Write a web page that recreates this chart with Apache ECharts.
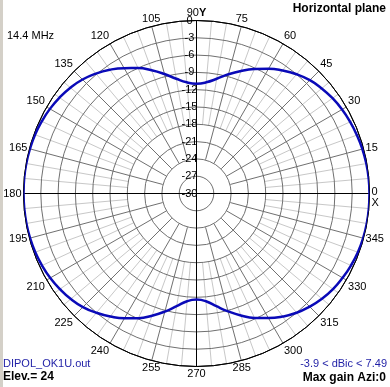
<!DOCTYPE html>
<html><head><meta charset="utf-8">
<script src="https://cdn.jsdelivr.net/npm/echarts@6/dist/echarts.min.js"></script>
<style>html,body{margin:0;padding:0;background:#fff;overflow:hidden}#c{width:390px;height:387px}</style>
</head><body><div id="c"></div><script>
// azimuth angles (degrees) and relative gain (dB)
const azimuth = [0,5,10,15,20,25,30,35,40,45,50,55,60,65,70,75,80,85,90,
  95,100,105,110,115,120,125,130,135,140,145,150,155,160,165,170,175,180,
  185,190,195,200,205,210,215,220,225,230,235,240,245,250,255,260,265,270,
  275,280,285,290,295,300,305,310,315,320,325,330,335,340,345,350,355,360];
const gainDb = [0,-0.03,-0.1,-0.22,-0.4,-0.6,-0.85,-1.2,-1.65,-2.2,-3.0,-3.95,-5.0,-6.2,-7.4,-8.6,-9.8,-10.65,-10.95,
  -10.65,-9.8,-8.55,-7.25,-6.0,-4.9,-3.8,-2.85,-2.05,-1.45,-1.0,-0.65,-0.4,-0.2,-0.1,-0.03,0,0,
  -0.02,-0.05,-0.12,-0.25,-0.45,-0.72,-1.1,-1.55,-2.15,-3.0,-3.95,-5.0,-6.15,-7.45,-8.8,-10.15,-11.25,-11.6,
  -11.25,-10.15,-8.85,-7.5,-6.2,-5.05,-3.95,-3.0,-2.25,-1.6,-1.1,-0.75,-0.45,-0.22,-0.08,-0.02,0,0];
const radiusTicks = [-30,-27,-24,-21,-18,-15,-12,-9,-6,-3,0];
const angleTickStep = 15;
const titleText = 'Horizontal plane';
const freqText = '14.4 MHz';
const fileText = 'DIPOL_OK1U.out';
const elevText = 'Elev.= 24';
const rangeText = '-3.9 < dBic < 7.49';
const maxText = 'Max gain Azi:0';

const C = [196.5, 193.5];
const R = 173;
const FONT = '"Liberation Sans", Arial, sans-serif';
const chart = echarts.init(document.getElementById('c'), null, {renderer: 'canvas'});
const ringColors = radiusTicks.map((t, i) => i === radiusTicks.length - 1 ? '#000' : '#707070');
const data = azimuth.map((a, i) => [gainDb[i], a]);

chart.setOption({
  animation: false,
  backgroundColor: '#fff',
  polar: [
    {center: C, radius: [0, R]},
    {center: C, radius: [35, R]},
    {center: C, radius: [69, R]},
    {center: C, radius: [0, R]}
  ],
  angleAxis: [
    {polarIndex: 0, type: 'value', min: 0, max: 360, interval: 90, startAngle: 90, clockwise: false,
      axisLine: {show: true, lineStyle: {color: '#000', width: 1}}, axisTick: {show: false},
      axisLabel: {show: false}, splitLine: {show: true, lineStyle: {color: '#000', width: 1}}, z: 3},
    {polarIndex: 1, type: 'value', min: 0, max: 360, interval: angleTickStep, startAngle: 0, clockwise: false,
      axisLine: {show: false}, axisTick: {show: false}, axisLabel: {show: false},
      splitLine: {show: true, lineStyle: {color: '#707070', width: 1}}, z: 2},
    {polarIndex: 2, type: 'value', min: 0, max: 360, interval: 5, startAngle: 0, clockwise: false,
      axisLine: {show: false}, axisTick: {show: false}, axisLabel: {show: false},
      splitLine: {show: true, lineStyle: {color: ['rgba(0,0,0,0)', '#c8c8c8', '#c8c8c8'], width: 1}}, z: 1},
    {polarIndex: 3, type: 'value', min: 0, max: 360, interval: angleTickStep, startAngle: 0, clockwise: false,
      axisLine: {show: false}, axisTick: {show: false}, splitLine: {show: false},
      axisLabel: {show: true, margin: 2, color: '#000', fontSize: 11, fontFamily: FONT,
        formatter: v => v === 0 ? '{z|0}\n{x|X}' : (v === 90 ? '{n|90}{y|Y}' : (v === 360 ? '' : String(v))),
        rich: {
          z: {fontSize: 11, fontFamily: FONT, color: '#000', padding: [8, 0, 0, 0]},
          x: {fontSize: 11, fontFamily: FONT, color: '#000'},
          n: {fontSize: 11, fontFamily: FONT, color: '#000'},
          y: {fontSize: 11, fontFamily: FONT, color: '#000', fontWeight: 'bold'}
        }}, z: 4}
  ],
  radiusAxis: [
    {polarIndex: 0, type: 'value', min: radiusTicks[0], max: radiusTicks[radiusTicks.length - 1], interval: 3,
      axisLine: {show: false}, axisTick: {show: false},
      splitLine: {show: true, lineStyle: {color: ringColors, width: 1}},
      axisLabel: {show: true, showMinLabel: true, showMaxLabel: true, margin: 7, align: 'center',
        color: '#000', fontSize: 11, fontFamily: FONT}, z: 3},
    {polarIndex: 1, type: 'value', min: -30, max: 0, show: false},
    {polarIndex: 2, type: 'value', min: -30, max: 0, show: false},
    {polarIndex: 3, type: 'value', min: -30, max: 0, show: false}
  ],
  series: [{
    type: 'line', coordinateSystem: 'polar', polarIndex: 3, data: data, smooth: true,
    symbol: 'none', lineStyle: {color: '#0a0ab8', width: 2.5}, z: 10
  }],
  graphic: [
    {type: 'rect', shape: {x: 0, y: 0, width: 3, height: 387}, style: {fill: '#d4d0c8'}},
    {type: 'text', x: 386, y: 9, style: {text: titleText, font: 'bold 12px ' + FONT, fill: '#000', align: 'right', verticalAlign: 'middle'}},
    {type: 'text', x: 7, y: 36, style: {text: freqText, font: '11px ' + FONT, fill: '#000', align: 'left', verticalAlign: 'middle'}},
    {type: 'text', x: 3, y: 364, style: {text: fileText, font: '11px ' + FONT, fill: '#1f1fa6', align: 'left', verticalAlign: 'middle'}},
    {type: 'text', x: 3, y: 377, style: {text: elevText, font: 'bold 12px ' + FONT, fill: '#000', align: 'left', verticalAlign: 'middle'}},
    {type: 'text', x: 387, y: 364, style: {text: rangeText, font: '11px ' + FONT, fill: '#1f1fa6', align: 'right', verticalAlign: 'middle'}},
    {type: 'text', x: 386, y: 378, style: {text: maxText, font: 'bold 12px ' + FONT, fill: '#000', align: 'right', verticalAlign: 'middle'}}
  ]
});
</script></body></html>
